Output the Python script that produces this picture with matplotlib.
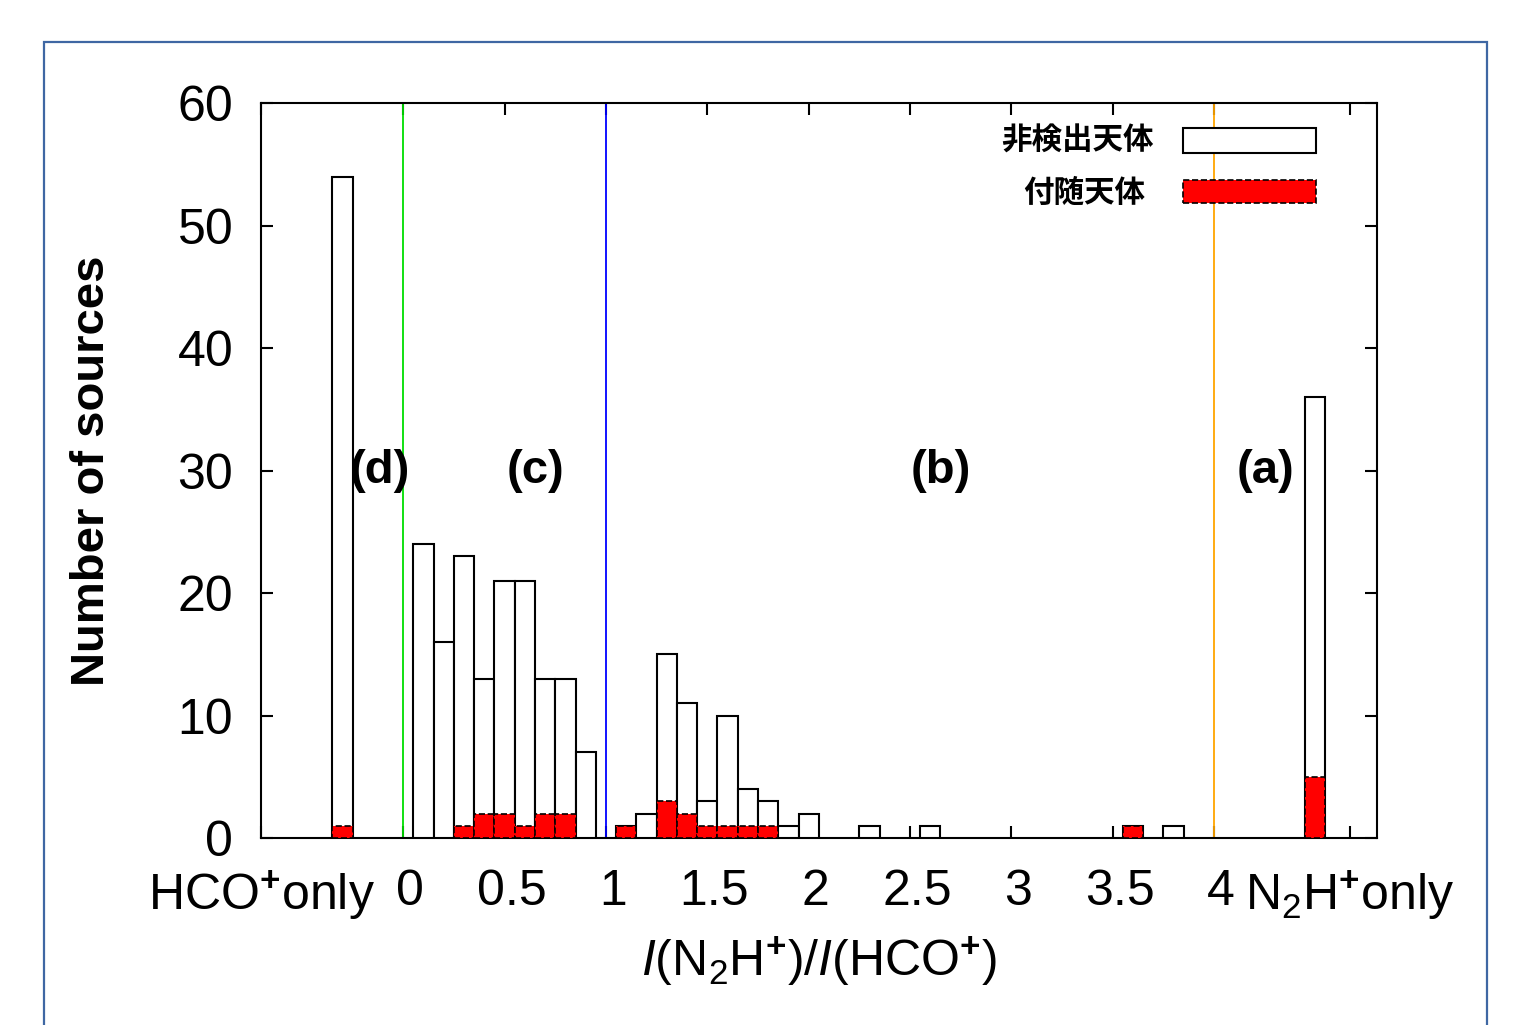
import numpy as np
import matplotlib
matplotlib.use('Agg')
import matplotlib.pyplot as plt
import matplotlib.transforms as mtransforms
from matplotlib.patches import Rectangle

plt.rcParams['font.family'] = ['Liberation Sans', 'Noto Sans CJK JP', 'DejaVu Sans']
plt.rcParams['mathtext.fontset'] = 'custom'
plt.rcParams['mathtext.rm'] = 'Liberation Sans'
plt.rcParams['mathtext.it'] = 'Liberation Sans:italic'
plt.rcParams['mathtext.bf'] = 'Liberation Sans:bold'

# histogram of I(N2H+)/I(HCO+), bins 0.1 wide (centres below), empty bins left out
ratio_bin = [0.1, 0.2, 0.3, 0.4, 0.5, 0.6, 0.7, 0.8, 0.9, 1.1, 1.2, 1.3, 1.4,
             1.5, 1.6, 1.7, 1.8, 1.9, 2.0, 2.3, 2.6, 3.6, 3.8]
n_all = [24, 16, 23, 13, 21, 21, 13, 13, 7, 1, 2, 15, 11,
         3, 10, 4, 3, 1, 2, 1, 1, 1, 1]
n_assoc = [0, 0, 1, 2, 2, 1, 2, 2, 0, 1, 0, 3, 2,
           1, 1, 1, 1, 0, 0, 0, 0, 1, 0]

# sources seen in only one line
only_pos = [-0.3, 4.5]
only_all = [54, 36]
only_assoc = [1, 5]

# region boundaries and labels
bound_x = [0, 1, 4]
bound_col = ['#00dd00', '#0000ff', '#ffa500']
region_txt = ['(d)', '(c)', '(b)', '(a)']
region_x = [-0.115, 0.65, 2.65, 4.255]

tick_pos = [-0.7, 0, 0.5, 1, 1.5, 2, 2.5, 3, 3.5, 4, 4.67]
tick_lab = [r'HCO$^{\mathbf{+}}$only', '0', '0.5', '1', '1.5', '2', '2.5', '3', '3.5', '4',
            r'N$_2$H$^{\mathbf{+}}$only']

legend_lab = ['非検出天体', '付随天体']

fig = plt.figure(figsize=(15.21, 10.25), dpi=100)
ax = fig.add_axes([0.1716, 0.1824, 0.7337, 0.7171])

x = np.array(ratio_bin)
a = np.array(n_assoc)
ax.bar(x, n_all, width=0.1, facecolor='white', edgecolor='black', linewidth=1.5, zorder=3)
ax.bar(x[a > 0], a[a > 0], width=0.1, facecolor='red', edgecolor='black',
       linewidth=1.2, linestyle='--', zorder=4)
ax.bar(only_pos, only_all, width=0.1, facecolor='white', edgecolor='black', linewidth=1.5, zorder=3)
ax.bar(only_pos, only_assoc, width=0.1, facecolor='red', edgecolor='black',
       linewidth=1.2, linestyle='--', zorder=4)

for bx, bc in zip(bound_x, bound_col):
    ax.axvline(bx, color=bc, linewidth=1.3, zorder=2)

for t, rx in zip(region_txt, region_x):
    ax.text(rx, 30, t, fontsize=34, fontweight='bold', ha='center', va='center')

ax.set_xlim(-0.702, 4.804)
ax.set_ylim(0, 60)
ax.set_yticks(range(0, 61, 10))
ax.set_xticks(tick_pos)
ax.set_xticklabels(tick_lab)
ax.tick_params(axis='both', which='major', direction='in', top=True, right=True,
               length=8.6, width=1.5, labelsize=36)
ax.tick_params(axis='x', pad=22)
ax.tick_params(axis='y', pad=20)
for s in ax.spines.values():
    s.set_linewidth(1.5)

# numeric tick labels sit a little to the right of their ticks
shift = mtransforms.ScaledTranslation(7 / 100, 0, fig.dpi_scale_trans)
for lab in ax.get_xticklabels()[1:-1]:
    lab.set_transform(lab.get_transform() + shift)

ax.set_ylabel('Number of sources', fontsize=34, fontweight='bold', labelpad=46)
ax.set_xlabel(r'$\mathit{I}$(N$_2$H$^{\mathbf{+}}$)/$\mathit{I}$(HCO$^{\mathbf{+}}$)',
              fontsize=36, labelpad=8)

# legend drawn by hand, gnuplot style
ax.add_patch(Rectangle((0.826, 0.932), 0.119, 0.034, transform=ax.transAxes,
                       facecolor='white', edgecolor='black', linewidth=1.5, zorder=5))
ax.add_patch(Rectangle((0.826, 0.864), 0.119, 0.031, transform=ax.transAxes,
                       facecolor='red', edgecolor='black', linewidth=1.2, linestyle='--', zorder=5))
ax.text(0.800, 0.948, legend_lab[0], transform=ax.transAxes, fontsize=22, fontweight='bold',
        ha='right', va='center')
ax.text(0.792, 0.877, legend_lab[1], transform=ax.transAxes, fontsize=22, fontweight='bold',
        ha='right', va='center')

# outer frame
fig.patches.append(Rectangle((0.0289, -0.05), 0.9488, 1.0095, transform=fig.transFigure,
                             fill=False, edgecolor='#3f67a3', linewidth=1.6))

fig.savefig('out.png', dpi=100)
